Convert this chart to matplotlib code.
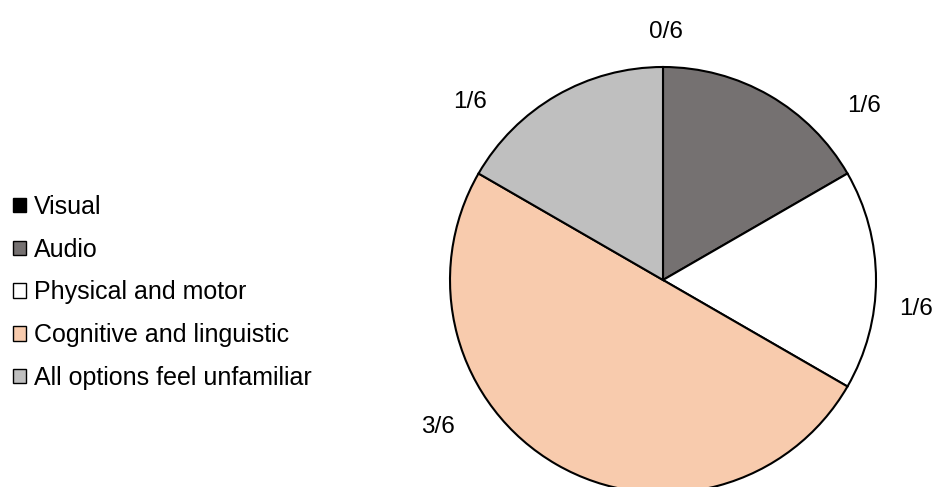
import matplotlib.pyplot as plt
from matplotlib.patches import Patch

plt.rcParams['font.family'] = ['Liberation Sans', 'DejaVu Sans']

categories = ['Visual', 'Audio', 'Physical and motor', 'Cognitive and linguistic',
              'All options feel unfamiliar']
counts = [0, 1, 1, 3, 1]
colors = ['#000000', '#757171', '#FFFFFF', '#F8CBAD', '#BFBFBF']

# label positions (pixels from top-left), Excel style placement
label_pos = [(666, 32), (864, 106), (916, 309), (438, 427), (470, 102)]

W, H = 952, 487
fig = plt.figure(figsize=(W / 100, H / 100), dpi=100)
ax = fig.add_axes([0, 0, 1, 1])

total = sum(counts)
ax.pie(counts, colors=colors, startangle=90, counterclock=False,
       radius=213, center=(663, H - 280), frame=True,
       wedgeprops=dict(edgecolor='black', linewidth=1.5))
ax.set_xlim(0, W)
ax.set_ylim(0, H)
ax.set_aspect('equal')
ax.axis('off')

for c, (x, y) in zip(counts, label_pos):
    ax.text(x, H - y, f'{c}/{total}', fontsize=17.5, ha='center', va='center')

handles = [Patch(facecolor=col, edgecolor='black', linewidth=1.0) for col in colors]
fig.legend(handles, categories, loc='upper left', bbox_to_anchor=(13 / W, 1 - 195 / H),
           frameon=False, fontsize=18, handlelength=0.52, handleheight=0.52,
           handletextpad=0.3, labelspacing=0.75, borderpad=0, borderaxespad=0)

fig.savefig('out.png', dpi=100)
